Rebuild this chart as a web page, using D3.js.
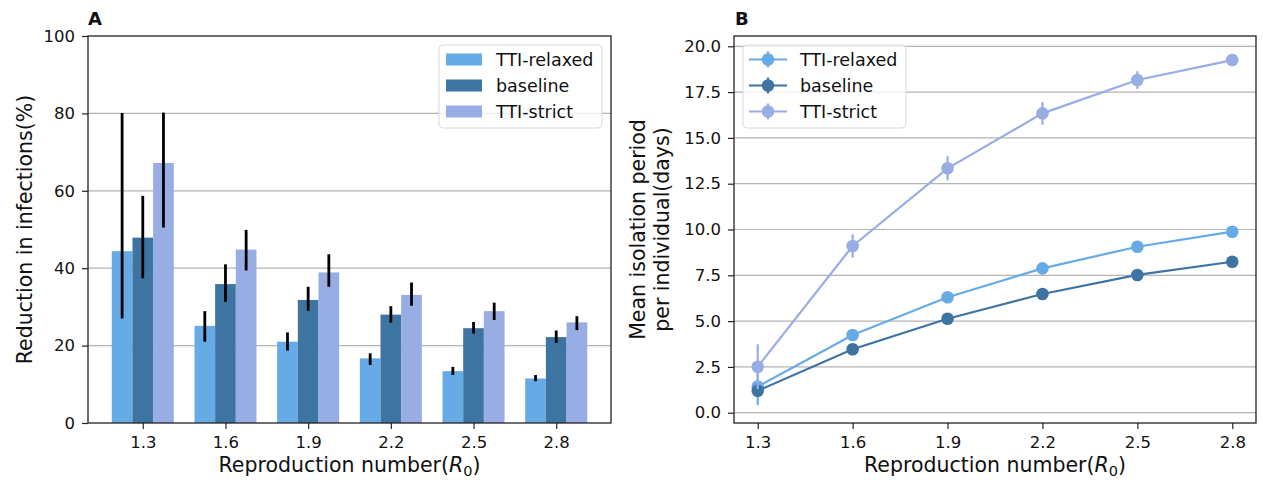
<!DOCTYPE html>
<meta charset="utf-8">
<head>
<style>
  body { margin: 0; background: #fff; font-family: "DejaVu Sans", sans-serif; }
  svg text { fill: #111; }
</style>
</head>
<body>
<svg id="chart" width="1263" height="480"></svg>
<script src="https://d3js.org/d3.v7.min.js"></script>
<script>

// categories (reproduction number)
var r0 = ["1.3", "1.6", "1.9", "2.2", "2.5", "2.8"];
var groups = ["TTI-relaxed", "baseline", "TTI-strict"];

// Panel A: reduction in infections (%), with error bar ranges
var redRelaxed = [44.4, 25.1, 21.0, 16.7, 13.4, 11.5];
var redRelaxedLo = [27.0, 21.0, 18.7, 15.0, 12.4, 10.8];
var redRelaxedHi = [80.1, 28.9, 23.4, 18.0, 14.5, 12.4];
var redBase = [47.9, 35.9, 31.8, 28.0, 24.5, 22.2];
var redBaseLo = [37.4, 31.3, 29.0, 25.9, 23.1, 20.7];
var redBaseHi = [58.7, 41.0, 35.2, 30.2, 26.1, 23.9];
var redStrict = [67.2, 44.8, 38.9, 33.1, 28.9, 26.0];
var redStrictLo = [50.5, 39.4, 35.2, 30.3, 26.6, 24.0];
var redStrictHi = [80.2, 49.9, 43.6, 36.3, 31.1, 27.6];

// Panel B: mean isolation period per individual (days)
var isoRelaxed = [1.42, 4.24, 6.3, 7.88, 9.06, 9.88];
var isoRelaxedErr = [1.0, 0.2, 0.15, 0.15, 0.12, 0.1];
var isoBase = [1.2, 3.46, 5.13, 6.48, 7.52, 8.24];
var isoBaseErr = [0.3, 0.15, 0.12, 0.1, 0.1, 0.1];
var isoStrict = [2.51, 9.1, 13.34, 16.34, 18.16, 19.25];
var isoStrictErr = [1.22, 0.63, 0.66, 0.62, 0.48, 0.2];

var yTicksA = [0, 20, 40, 60, 80, 100];
var yTicksB = [0, 2.5, 5, 7.5, 10, 12.5, 15, 17.5, 20];

var colors = ["#66aae6", "#3d74a1", "#97ade4"];

var svg = d3.select("#chart");
var gridColor = "#b4b4b4";

// ---------- Panel A ----------
var A = { left: 88, right: 611, top: 36, bottom: 423 };

var xA = d3.scaleLinear().domain([-0.6625, 5.6625]).range([A.left, A.right]);
var yA = d3.scaleLinear().domain([0, 100]).range([A.bottom, A.top]);
var barW = 0.25;

var gA = svg.append("g");

// grid
gA.append("g").selectAll("line")
  .data(yTicksA.slice(1, -1))
  .enter().append("line")
    .attr("x1", A.left).attr("x2", A.right)
    .attr("y1", function(d){ return yA(d) }).attr("y2", function(d){ return yA(d) })
    .attr("stroke", gridColor).attr("stroke-width", 1.2);

var seriesA = [
  { vals: redRelaxed, lo: redRelaxedLo, hi: redRelaxedHi, off: -0.25 },
  { vals: redBase, lo: redBaseLo, hi: redBaseHi, off: 0 },
  { vals: redStrict, lo: redStrictLo, hi: redStrictHi, off: 0.25 }
];

seriesA.forEach(function(s, k) {
  gA.append("g").selectAll("rect")
    .data(s.vals)
    .enter().append("rect")
      .attr("x", function(d, i){ return xA(i + s.off - barW / 2) })
      .attr("width", function(){ return xA(barW) - xA(0) })
      .attr("y", function(d){ return yA(d) })
      .attr("height", function(d){ return yA(0) - yA(d) })
      .attr("fill", colors[k]);
});
seriesA.forEach(function(s) {
  gA.append("g").selectAll("line")
    .data(s.vals)
    .enter().append("line")
      .attr("x1", function(d, i){ return xA(i + s.off) })
      .attr("x2", function(d, i){ return xA(i + s.off) })
      .attr("y1", function(d, i){ return yA(s.lo[i]) })
      .attr("y2", function(d, i){ return yA(s.hi[i]) })
      .attr("stroke", "#000").attr("stroke-width", 2.8);
});

// axes
gA.append("g").attr("transform", "translate(0," + A.bottom + ")")
  .call(d3.axisBottom(xA).tickValues(d3.range(r0.length)).tickFormat(function(i){ return r0[i] }).tickSize(6).tickPadding(7));
gA.append("g").attr("transform", "translate(" + A.left + ",0)")
  .call(d3.axisLeft(yA).tickValues(yTicksA).tickSize(6).tickPadding(7));

gA.append("rect")
  .attr("x", A.left).attr("y", A.top)
  .attr("width", A.right - A.left).attr("height", A.bottom - A.top)
  .attr("fill", "none").attr("stroke", "#222").attr("stroke-width", 1.3);

// ---------- Panel B ----------
var B = { left: 734, right: 1256, top: 36, bottom: 423 };

var xB = d3.scaleLinear().domain([1.225, 2.875]).range([B.left, B.right]);
var yB = d3.scaleLinear().domain([-0.563, 20.563]).range([B.bottom, B.top]);

var gB = svg.append("g");

gB.append("g").selectAll("line")
  .data(yTicksB)
  .enter().append("line")
    .attr("x1", B.left).attr("x2", B.right)
    .attr("y1", function(d){ return yB(d) }).attr("y2", function(d){ return yB(d) })
    .attr("stroke", gridColor).attr("stroke-width", 1.2);

var seriesB = [
  { vals: isoRelaxed, err: isoRelaxedErr },
  { vals: isoBase, err: isoBaseErr },
  { vals: isoStrict, err: isoStrictErr }
];

var line = d3.line()
  .x(function(d, i){ return xB(+r0[i]) })
  .y(function(d){ return yB(d) });

seriesB.forEach(function(s, k) {
  var g = gB.append("g");
  g.append("path")
    .attr("d", line(s.vals))
    .attr("fill", "none").attr("stroke", colors[k]).attr("stroke-width", 2.2);
  g.selectAll("line.err")
    .data(s.vals)
    .enter().append("line")
      .attr("class", "err")
      .attr("x1", function(d, i){ return xB(+r0[i]) })
      .attr("x2", function(d, i){ return xB(+r0[i]) })
      .attr("y1", function(d, i){ return yB(d - s.err[i]) })
      .attr("y2", function(d, i){ return yB(d + s.err[i]) })
      .attr("stroke", colors[k]).attr("stroke-width", 2.2);
  g.selectAll("circle")
    .data(s.vals)
    .enter().append("circle")
      .attr("cx", function(d, i){ return xB(+r0[i]) })
      .attr("cy", function(d){ return yB(d) })
      .attr("r", 6.3)
      .attr("fill", colors[k]);
});

gB.append("g").attr("transform", "translate(0," + B.bottom + ")")
  .call(d3.axisBottom(xB).tickValues(r0.map(Number)).tickFormat(d3.format(".1f")).tickSize(6).tickPadding(7));
gB.append("g").attr("transform", "translate(" + B.left + ",0)")
  .call(d3.axisLeft(yB).tickValues(yTicksB).tickFormat(d3.format(".1f")).tickSize(6).tickPadding(7));

gB.append("rect")
  .attr("x", B.left).attr("y", B.top)
  .attr("width", B.right - B.left).attr("height", B.bottom - B.top)
  .attr("fill", "none").attr("stroke", "#222").attr("stroke-width", 1.3);

// axis styling
svg.selectAll(".domain").remove();
svg.selectAll(".tick line").attr("stroke", "#222").attr("stroke-width", 1.2);
svg.selectAll(".tick text").attr("fill", "#111").style("font-size", "16.5px").style("font-family", "DejaVu Sans");

// ---------- labels ----------
function xLabel(cx) {
  var t = svg.append("text")
    .attr("x", cx).attr("y", 472)
    .attr("text-anchor", "middle")
    .style("font-size", "20.5px");
  t.append("tspan").text("Reproduction number(");
  t.append("tspan").style("font-style", "italic").text("R");
  t.append("tspan").attr("dy", 3.5).style("font-size", "14.5px").text("0");
  t.append("tspan").attr("dy", -3.5).text(")");
}
xLabel((A.left + A.right) / 2);
xLabel((B.left + B.right) / 2);

svg.append("text")
  .attr("transform", "translate(32," + (A.top + A.bottom) / 2 + ") rotate(-90)")
  .attr("text-anchor", "middle")
  .style("font-size", "20.5px")
  .text("Reduction in infections(%)");

svg.append("text")
  .attr("transform", "translate(645," + (B.top + B.bottom) / 2 + ") rotate(-90)")
  .attr("text-anchor", "middle")
  .style("font-size", "20.5px")
  .text("Mean isolation period");
svg.append("text")
  .attr("transform", "translate(669," + (B.top + B.bottom) / 2 + ") rotate(-90)")
  .attr("text-anchor", "middle")
  .style("font-size", "20.5px")
  .text("per individual(days)");

svg.append("text").attr("x", 88).attr("y", 25)
  .style("font-size", "18px").style("font-weight", "bold").text("A");
svg.append("text").attr("x", 735).attr("y", 25)
  .style("font-size", "18px").style("font-weight", "bold").text("B");

// ---------- legends ----------
var legA = svg.append("g").attr("transform", "translate(439,45)");
legA.append("rect").attr("width", 163).attr("height", 83).attr("rx", 4)
  .attr("fill", "#fff").attr("fill-opacity", 0.8).attr("stroke", "#d8d8d8");
groups.forEach(function(name, k) {
  var cy = 14.5 + k * 26;
  legA.append("rect").attr("x", 7).attr("y", cy - 6).attr("width", 36).attr("height", 12).attr("fill", colors[k]);
  legA.append("text").attr("x", 57).attr("y", cy + 6.5).style("font-size", "17.5px").text(name);
});

var legB = svg.append("g").attr("transform", "translate(743,45)");
legB.append("rect").attr("width", 163).attr("height", 83).attr("rx", 4)
  .attr("fill", "#fff").attr("fill-opacity", 0.8).attr("stroke", "#d8d8d8");
groups.forEach(function(name, k) {
  var cy = 14.5 + k * 26;
  legB.append("line").attr("x1", 6).attr("x2", 44).attr("y1", cy).attr("y2", cy)
    .attr("stroke", colors[k]).attr("stroke-width", 2.2);
  legB.append("line").attr("x1", 25).attr("x2", 25).attr("y1", cy - 8).attr("y2", cy + 8)
    .attr("stroke", colors[k]).attr("stroke-width", 2.2);
  legB.append("circle").attr("cx", 25).attr("cy", cy).attr("r", 6.3).attr("fill", colors[k]);
  legB.append("text").attr("x", 57).attr("y", cy + 6.5).style("font-size", "17.5px").text(name);
});

</script>
</body>
